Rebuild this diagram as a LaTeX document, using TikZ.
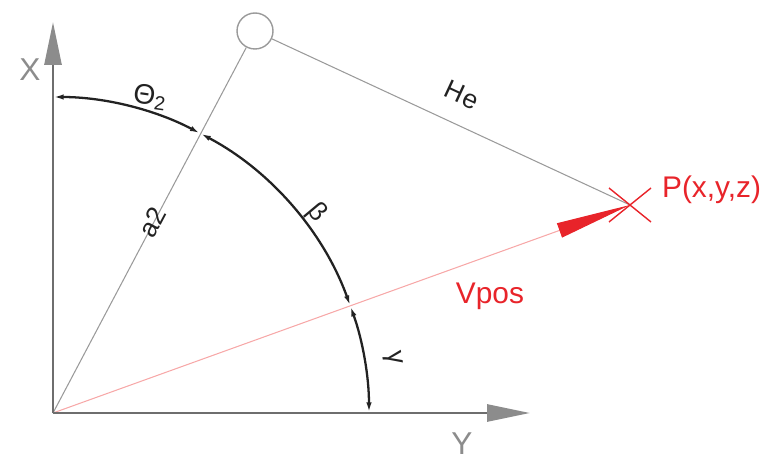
\documentclass[tikz,border=0pt]{standalone}
\usepackage{fontspec}
\setmainfont{Liberation Sans}
\usetikzlibrary{arrows.meta,positioning}
\definecolor{axisgray}{HTML}{6E6E6E}
\definecolor{tipgray}{HTML}{8C8C8C}
\definecolor{linegray}{HTML}{9A9A9A}
\definecolor{vred}{HTML}{E8242A}
\definecolor{vpink}{HTML}{F7A8A8}
\definecolor{ink}{HTML}{222222}
\tikzset{
  axis/.style={line width=1.6pt,color=axisgray,
               -{Triangle[length=0.86cm,width=0.34cm,color=tipgray]}},
  link/.style={line width=0.6pt,color=linegray},
  joint/.style={circle,draw=linegray,line width=0.8pt,fill=white,
                minimum size=0.72cm,inner sep=0pt},
  dimarc/.style={line width=1.3pt,color=ink,
                 {Latex[length=6pt,width=3pt]}-{Latex[length=6pt,width=3pt]}},
  vpos/.style={line width=0.6pt,color=vpink,
               -{Triangle[length=1.5cm,width=0.3cm,color=vred]}},
  cross/.style={line width=0.8pt,color=vred},
  axlbl/.style={font=\fontsize{18}{20}\selectfont,text=tipgray,inner sep=1pt},
  lbl/.style={font=\fontsize{15}{17}\selectfont,text=ink,inner sep=1pt},
  rlbl/.style={font=\fontsize{17}{19}\selectfont,text=vred,inner sep=1pt},
}

\begin{document}
\begin{tikzpicture}[x=0.02cm,y=0.02cm]
  \useasboundingbox (-53,-47) rectangle (711,413);
  \coordinate (O) at (0,0);
  \coordinate (xtip) at (0,391);
  \coordinate (ytip) at (477,0);
  \coordinate (P) at (577,208);
  \node[joint] (jnt) at (202,382) {};

  % arm and target
  \draw[link] (O) -- (jnt);
  \draw[link] (jnt) -- (P);
  \draw[vpos] (O) -- (P);
  \draw[cross] ([shift={(-21,17)}]P) -- ([shift={(21,-17)}]P);
  \draw[cross] ([shift={(-21,-17)}]P) -- ([shift={(21,17)}]P);

  % axes
  \draw[axis] (O) -- (xtip);
  \draw[axis] (O) -- (ytip);

  % angles
  \draw[dimarc] (O) ++(90:316) arc[start angle=90,end angle=62.2,radius=6.32cm];
  \draw[dimarc] (O) ++(62.2:316) arc[start angle=62.2,end angle=19.8,radius=6.32cm];
  \draw[dimarc] (O) ++(19.8:316) arc[start angle=19.8,end angle=0,radius=6.32cm];

  \node[axlbl] (xlbl) at (-23,343) {X};
  \node[axlbl] (ylbl) at (409,-31) {Y};
  \node[lbl,rotate=-8,font=\fontsize{16}{18}\selectfont] (thlbl) at (97,316) {Θ\textsubscript{2}};
  \node[lbl,rotate=62] (albl) at (99,191) {a2};
  \node[lbl,rotate=-25] (helbl) at (409,318) {He};
  \node[lbl,rotate=-50] (belbl) at (264,200) {β};
  \node[lbl,rotate=-80] (galbl) at (340,55) {γ};
  \node[rlbl] (vlbl) at (437,117) {Vpos};
  \node[rlbl,anchor=west] (plbl) at ([shift={(30,15)}]P) {P(x,y,z)};
\end{tikzpicture}
\end{document}
